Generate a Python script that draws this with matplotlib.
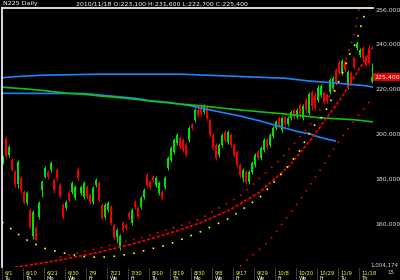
import numpy as np
import matplotlib
matplotlib.use('Agg')
import matplotlib.pyplot as plt
import matplotlib.transforms as mtransforms

# 日足データ (千円単位)
opens = [187.6, 197.8, 190.7, 188.5, 183.1, 177.8, 180.5, 174.3, 169.4, 166.3,
         154.7, 158.3, 163.1, 175.2, 180.9, 183.1, 184.0, 179.6, 184.0, 177.4,
         168.5, 167.2, 173.8, 174.3, 171.6, 184.0, 173.8, 172.0, 176.5, 172.9,
         169.8, 177.4, 178.3, 168.5, 163.1, 166.3, 167.6, 159.6, 154.2, 149.4,
         160.5, 159.6, 164.9, 160.5, 169.8, 167.2, 167.6, 172.0, 181.8, 178.7,
         180.9, 177.4, 173.8, 174.3, 176.5, 184.9, 188.5, 192.0, 196.0, 198.3,
         197.4, 195.1, 197.4, 204.0, 206.3, 210.7, 211.6, 209.8, 212.0, 206.3,
         199.6, 195.1, 190.7, 195.1, 200.9, 196.5, 199.6, 195.1, 192.0, 186.2,
         180.5, 183.1, 178.7, 183.1, 186.2, 192.0, 189.3, 192.9, 197.4, 195.1,
         199.2, 202.7, 207.2, 201.8, 207.6, 204.5, 207.2, 210.7, 207.6, 212.9,
         207.2, 215.2, 209.4, 218.7, 217.4, 215.2, 217.4, 218.3, 217.4, 218.7,
         220.5, 228.5, 231.6, 227.1, 232.0, 220.9, 227.1, 233.8, 238.3, 235.2,
         238.3, 234.3, 238.3, 223.1]
closes = [189.8, 190.2, 194.2, 184.0, 177.8, 187.6, 175.2, 169.4, 173.8, 158.7,
          165.4, 152.9, 169.4, 178.7, 184.9, 180.9, 187.1, 175.2, 180.5, 172.5,
          163.1, 169.8, 170.7, 178.3, 176.5, 180.5, 176.5, 178.3, 172.0, 169.8,
          176.0, 179.6, 170.7, 162.7, 168.5, 169.4, 160.5, 154.2, 157.4, 154.7,
          157.4, 158.3, 163.1, 166.3, 167.6, 163.1, 171.6, 175.2, 177.4, 176.5,
          179.6, 180.5, 178.3, 171.6, 180.5, 189.3, 193.8, 197.4, 199.6, 194.2,
          192.9, 190.7, 202.7, 202.7, 210.7, 208.5, 208.9, 212.5, 207.2, 199.6,
          193.8, 189.3, 195.1, 199.6, 197.4, 200.9, 195.1, 190.7, 186.2, 181.8,
          184.0, 178.7, 183.1, 187.1, 190.7, 189.3, 193.8, 197.4, 194.2, 199.6,
          202.7, 205.4, 203.6, 207.2, 204.5, 207.2, 209.8, 207.6, 210.7, 208.9,
          212.5, 210.7, 217.8, 212.5, 211.6, 220.5, 221.4, 214.3, 214.7, 224.0,
          224.9, 222.7, 227.6, 232.5, 228.5, 227.6, 222.7, 229.8, 240.5, 237.4,
          233.8, 230.7, 231.6, 225.4]
highs = [190.7, 199.2, 195.1, 189.3, 184.0, 188.5, 181.4, 175.2, 174.7, 167.2,
         166.3, 159.2, 170.3, 179.6, 185.8, 184.0, 188.0, 180.5, 184.9, 178.3,
         169.4, 170.7, 175.2, 179.2, 177.4, 185.3, 177.4, 179.2, 177.4, 173.8,
         176.9, 180.5, 179.2, 169.4, 169.4, 170.3, 168.5, 160.5, 158.3, 155.6,
         161.4, 160.5, 165.8, 167.2, 170.7, 168.1, 172.5, 176.0, 182.7, 179.6,
         181.8, 181.4, 179.2, 175.2, 181.4, 190.2, 194.7, 198.3, 200.5, 199.2,
         198.3, 196.0, 203.6, 204.9, 211.6, 212.9, 213.4, 213.4, 212.9, 207.2,
         200.5, 196.0, 196.0, 200.5, 201.8, 201.8, 200.5, 196.0, 192.9, 187.1,
         184.9, 184.0, 184.0, 188.0, 191.6, 192.9, 194.7, 198.3, 198.3, 200.5,
         203.6, 206.3, 208.1, 208.1, 208.5, 208.1, 210.7, 211.6, 211.6, 213.8,
         213.4, 216.5, 218.7, 219.6, 218.7, 221.8, 222.3, 219.2, 218.3, 224.9,
         225.8, 229.4, 232.9, 233.4, 232.9, 228.5, 228.0, 234.7, 241.4, 238.3,
         239.2, 235.2, 239.6, 231.6]
lows = [186.7, 189.3, 189.8, 183.6, 176.5, 176.0, 173.8, 168.9, 168.5, 157.8,
        153.3, 152.5, 162.3, 172.0, 180.5, 180.0, 183.1, 173.8, 179.6, 171.6,
        162.3, 166.3, 169.8, 173.4, 170.7, 179.6, 172.9, 171.2, 171.2, 168.9,
        168.9, 176.5, 169.8, 161.8, 162.3, 165.4, 159.6, 153.3, 152.0, 148.5,
        156.5, 157.4, 162.3, 159.6, 166.7, 162.3, 166.7, 171.2, 176.0, 175.6,
        178.7, 176.5, 172.9, 170.7, 175.6, 184.0, 187.6, 191.1, 195.1, 193.4,
        192.0, 189.8, 196.5, 201.8, 205.4, 207.6, 208.1, 208.9, 206.3, 198.7,
        192.9, 188.5, 189.8, 194.2, 196.5, 195.6, 194.2, 189.8, 185.3, 180.9,
        178.7, 177.8, 177.8, 182.3, 185.3, 188.5, 188.5, 192.0, 193.4, 194.2,
        198.3, 201.8, 202.7, 200.9, 203.6, 203.6, 206.3, 206.7, 206.7, 207.2,
        206.3, 209.4, 208.5, 210.7, 210.7, 214.3, 216.5, 213.4, 213.8, 217.8,
        219.6, 221.8, 226.7, 226.2, 227.6, 220.0, 221.8, 228.9, 237.4, 234.3,
        232.9, 229.8, 230.7, 222.7]

# トレンドライン
blue_top_x = [-1, 4, 12.3, 32.3, 59, 94, 101.7, 109.7, 121.3, 124.3]
blue_top_y = [224.9, 225.5, 226.1, 226.6, 226.6, 224.8, 223.6, 222.8, 221.4, 220.5]
blue_low_x = [-1, 27.3, 35.7, 44, 49, 55.7, 62.3, 65.7, 72.3, 79, 85.7, 92.3, 97.3, 102.3, 105.7, 110.7]
blue_low_y = [218.1, 218.0, 216.9, 215.9, 214.8, 214.0, 212.6, 211.6, 209.8, 208.0, 205.8, 203.3, 201.4, 200.0, 198.5, 196.9]
green_x = [-1, 4, 9, 14.3, 18.3, 21.7, 25.7, 29, 32.3, 40.7, 45.7, 49, 53.3, 59, 64, 79, 94, 105.7, 112.3, 117.3, 123.3]
green_y = [220.9, 220.4, 219.9, 219.2, 218.6, 218.1, 217.8, 217.4, 216.9, 215.9, 215.2, 214.6, 214.1, 213.3, 212.8, 210.7, 208.9, 207.2, 206.7, 206.3, 205.4]
red_mid_x = [2.3, 9, 19, 32.3, 45.7, 59, 65.7, 75.7, 85.7, 95.7, 103, 112.3, 123.3]
red_mid_y = [140.5, 141.8, 144.0, 147.6, 152.0, 157.4, 160.5, 166.3, 174.3, 186.2, 198.3, 215.2, 238.7]
red_up_x = [19, 32.3, 45.7, 59, 65.7, 79, 92.3, 102.3, 109, 114, 117.3, 118.7]
red_up_y = [145.3, 149.4, 153.8, 159.2, 162.3, 172.5, 188.5, 204.0, 217.4, 232.0, 245.3, 256.0]
red_dn_x = [79, 89, 99, 105.7, 112.3, 117.3, 122.3]
red_dn_y = [141.3, 152.9, 170.7, 184.0, 197.4, 206.3, 214.7]
yel_x = [-0.3, 4, 7.3, 10, 13.3, 15.7, 21.7, 28, 34, 38.3, 44, 48, 54.7, 60.7, 65.7, 75.7,
         85.7, 94, 99, 103.3, 106.3, 109, 110.7, 114, 115.7, 117.3, 118.7, 119.7, 121]
yel_y = [160.9, 156.5, 153.3, 151.6, 149.4, 148.5, 146.7, 145.3, 145.3, 145.8, 147.1, 148.5, 150.7, 153.8,
         156.5, 162.7, 172.0, 184.0, 192.9, 203.1, 207.6, 213.8, 219.6, 229.8, 236.0, 239.6, 244.9, 249.8, 255.1]

price_ticks = [160, 180, 200, 220, 240]
date_pos = [0, 7, 14, 21, 28, 35, 42, 49, 56, 63, 70, 77, 84, 91, 98, 105, 112, 119]
date_row1 = ["6/1", "6/10", "6/21", "6/30", "7/9", "7/21", "7/30", "8/10", "8/19",
             "8/30", "9/8", "9/17", "9/29", "10/8", "10/20", "10/29", "11/9", "11/18"]
date_row2 = ["Tu", "Th", "Mo", "We", "Fr", "We", "Fr", "Tu", "Th",
             "Mo", "We", "Fr", "We", "Fr", "We", "Fr", "Tu", "Th"]

o = np.array(opens)
c = np.array(closes)
h = np.array(highs)
l = np.array(lows)
idx = np.arange(len(o))

fig = plt.figure(figsize=(4, 2.8), dpi=100, facecolor='black')
ax = fig.add_axes([0.005, 0.0464, 0.9275, 0.925], facecolor='black')

cols = np.where(c >= o, '#00e000', '#f00000')
ax.vlines(idx, l, h, colors=cols, lw=0.8)
ax.bar(idx, np.abs(c - o), bottom=np.minimum(o, c), width=0.7, color=cols, lw=0)

ax.plot(blue_top_x, blue_top_y, color='#1e82ff', lw=1.2)
ax.plot(blue_low_x, blue_low_y, color='#1e82ff', lw=1.2)
ax.plot(green_x, green_y, color='#10c010', lw=1.2)
ax.plot(red_mid_x, red_mid_y, color='#f00000', lw=1.2, ls=(0, (2, 1)))
ax.plot(red_up_x, red_up_y, color='#f00000', lw=1.2, ls=(0, (1, 4)))
ax.plot(red_dn_x, red_dn_y, color='#f00000', lw=1.2, ls=(0, (1, 4)))
ax.plot(yel_x, yel_y, color='#ffff00', lw=1.2, ls=(0, (1, 5)))

ax.set_xlim(-0.33, 123.33)
ax.set_ylim(140.9, 256.0)

for s in ['right', 'bottom']:
    ax.spines[s].set_visible(False)
for s in ['top', 'left']:
    ax.spines[s].set_color('white')
    ax.spines[s].set_linewidth(1.2)

ax.yaxis.tick_right()
ax.set_yticks(price_ticks)
ax.set_yticklabels([f"{v * 1000:,.0f}" for v in price_ticks])
ax.tick_params(axis='y', length=0, labelsize=4.5, labelcolor='#e0e0e0', pad=2)
ax.set_xticks([])

# 日付ラベル
trans = mtransforms.blended_transform_factory(ax.transData, ax.transAxes)
for p, t1, t2 in zip(date_pos, date_row1, date_row2):
    ax.text(p + 0.5, -0.012, t1, transform=trans, color='#ffff40', fontsize=3.8,
            ha='left', va='top', clip_on=False)
    ax.text(p + 0.5, -0.035, t2, transform=trans, color='white', fontsize=3.8,
            ha='left', va='top', clip_on=False)
    ax.plot([p - 0.2, p - 0.2], [-0.005, -0.06], transform=trans, color='#909090',
            lw=0.6, ls=(0, (1, 1)), clip_on=False)

# 現在値
trans_y = mtransforms.blended_transform_factory(ax.transAxes, ax.transData)
ax.text(1.004, c[-1], f"{c[-1] * 1000:,.0f}", transform=trans_y, color='white', fontsize=4.5,
        ha='left', va='center', clip_on=False,
        bbox=dict(boxstyle='square,pad=0.25', fc='#e00000', ec='none'))

fig.text(0.94, 1 - 10 / 280, f"{ax.get_ylim()[1] * 1000:,.0f}", color='#e0e0e0', fontsize=4.5, va='center')
fig.text(0.995, 1 - 265 / 280, "1,004,174", color='#e0e0e0', fontsize=4, va='center', ha='right')
fig.text(0.985, 1 - 273 / 280, "15", color='#e0e0e0', fontsize=4, va='center', ha='right')
fig.text(0.008, 1 - 4 / 280, "N225 Daily", color='white', fontsize=4.5, va='center')
fig.text(0.19, 1 - 4 / 280,
         "2010/11/18 O:223,100 H:231,600 L:222,700 C:225,400",
         color='white', fontsize=4.5, va='center')

fig.savefig('out.png', dpi=100, facecolor='black')
